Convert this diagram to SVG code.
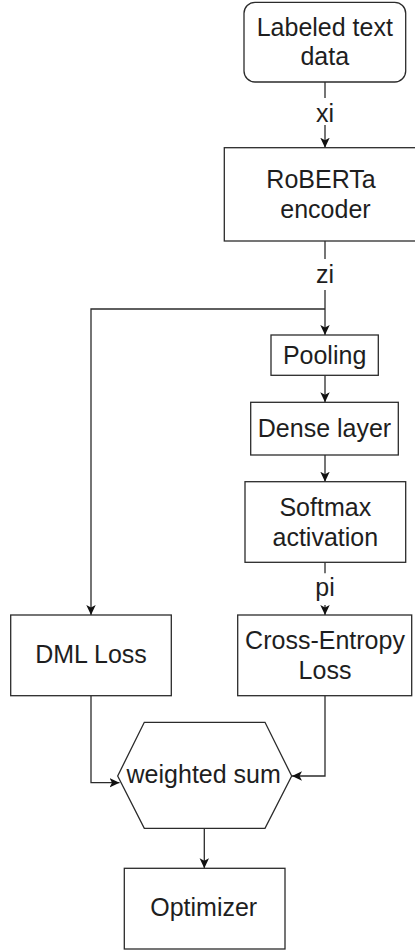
<svg xmlns="http://www.w3.org/2000/svg" width="415" height="951" viewBox="0 0 415 951">
<style>
.box{fill:#ffffff;stroke:#2b2b2b;stroke-width:1.3}
.edge{fill:none;stroke:#2b2b2b;stroke-width:1.3}
text{font-family:"Liberation Sans",Arial,sans-serif;font-size:25px;fill:#1e1e1e;text-anchor:middle}
</style>
<defs>
<marker id="arr" markerUnits="userSpaceOnUse" markerWidth="12" markerHeight="12" refX="10" refY="5" orient="auto" viewBox="0 0 12 12">
<path d="M0,0.3 L10,5 L0,9.7 L2.5,5 z" fill="#111111"/>
</marker>
</defs>
<rect x="0" y="0" width="415" height="951" fill="#ffffff"/>
<g id="connectors">
<line class="edge" x1="325" y1="82" x2="325" y2="98"/>
<line class="edge" x1="325" y1="125" x2="325" y2="147.7" marker-end="url(#arr)"/>
<text x="325" y="122">xi</text>
<line class="edge" x1="325" y1="241" x2="325" y2="259"/>
<line class="edge" x1="325" y1="290" x2="325" y2="335" marker-end="url(#arr)"/>
<text x="325" y="282.5">zi</text>
<path class="edge" d="M325,309 H91 V615" marker-end="url(#arr)"/>
<line class="edge" x1="325" y1="375.3" x2="325" y2="402.3" marker-end="url(#arr)"/>
<line class="edge" x1="325" y1="455" x2="325" y2="481.7" marker-end="url(#arr)"/>
<line class="edge" x1="325" y1="562.3" x2="325" y2="573.3"/>
<line class="edge" x1="325" y1="605" x2="325" y2="615" marker-end="url(#arr)"/>
<text x="325" y="596">pi</text>
<path class="edge" d="M91,695.7 V782.7 H119.5" marker-end="url(#arr)"/>
<path class="edge" d="M325,695.7 V776 H292" marker-end="url(#arr)"/>
<line class="edge" x1="204.3" y1="828.3" x2="204.3" y2="868.3" marker-end="url(#arr)"/>
</g>
<g id="labeled-text-data">
<rect class="box" x="244" y="2.3" width="161.7" height="79.7" rx="11" ry="11"/>
<text x="324.8" y="35.5">Labeled text</text>
<text x="324.8" y="65">data</text>
</g>
<g id="roberta-encoder">
<rect class="box" x="224.3" y="147.7" width="202" height="93.3"/>
<text x="321" y="188.3">RoBERTa</text>
<text x="325.5" y="218.3">encoder</text>
</g>
<g id="pooling">
<rect class="box" x="271" y="335" width="107.3" height="40.3"/>
<text x="324.6" y="363.5">Pooling</text>
</g>
<g id="dense-layer">
<rect class="box" x="250.7" y="402.3" width="147.6" height="52.7"/>
<text x="324.5" y="437.3">Dense layer</text>
</g>
<g id="softmax-activation">
<rect class="box" x="245" y="481.7" width="160.7" height="80.6"/>
<text x="325.3" y="515.5">Softmax</text>
<text x="325.3" y="545.5">activation</text>
</g>
<g id="dml-loss">
<rect class="box" x="10.7" y="615" width="160.6" height="80.7"/>
<text x="91" y="663.2">DML Loss</text>
</g>
<g id="cross-entropy-loss">
<rect class="box" x="237.7" y="615" width="174" height="80.7"/>
<text x="325" y="648.5">Cross-Entropy</text>
<text x="325" y="678.5">Loss</text>
</g>
<g id="weighted-sum">
<polygon class="box" points="144.3,722.3 265,722.3 291.7,776 265,828.3 144.3,828.3 117.7,776"/>
<text x="203.7" y="783">weighted sum</text>
</g>
<g id="optimizer">
<rect class="box" x="124.3" y="868.3" width="160.7" height="80.7"/>
<text x="203.7" y="916">Optimizer</text>
</g>
</svg>
